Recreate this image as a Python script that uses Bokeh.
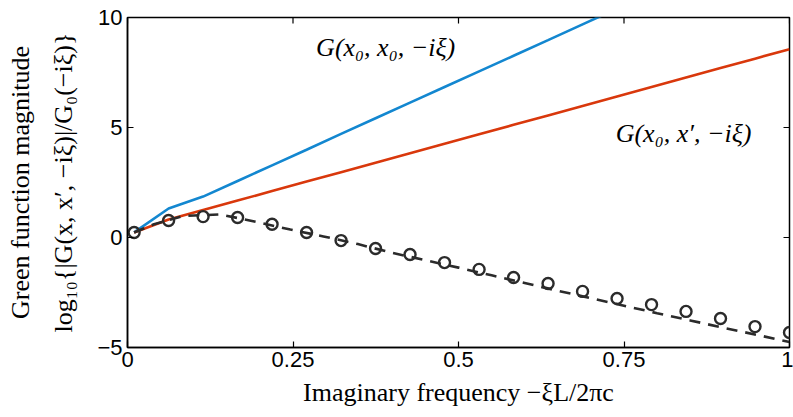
import math
from bokeh.plotting import figure
from bokeh.models import Range1d, LinearAxis, FixedTicker, Label, ColumnDataSource
from bokeh.embed import file_html
from bokeh.resources import INLINE

# ---- data ----
freq = [0.01, 0.0621, 0.1142, 0.1663, 0.2184, 0.2705, 0.3226, 0.3747, 0.4268, 0.4789,
        0.5311, 0.5832, 0.6353, 0.6874, 0.7395, 0.7916, 0.8437, 0.8958, 0.9479, 1.0]
g_same = [0.23, 1.32, 1.86, 2.57, 3.28, 3.99, 4.71, 5.42, 6.13, 6.84,
          7.55, 8.26, 8.97, 9.69, 10.40, 11.11, 11.82, 12.53, 13.25, 13.96]
g_cross = [0.23, 0.82, 1.25, 1.68, 2.11, 2.54, 2.97, 3.40, 3.83, 4.26,
           4.69, 5.12, 5.55, 5.98, 6.41, 6.84, 7.27, 7.70, 8.13, 8.56]
g_circ = [0.23, 0.77, 0.95, 0.91, 0.60, 0.23, -0.14, -0.50, -0.77, -1.14,
          -1.45, -1.82, -2.09, -2.45, -2.77, -3.05, -3.36, -3.68, -4.05, -4.32]
dash_x = [0.01, 0.04, 0.085, 0.14, 0.196, 0.246, 0.296, 0.348, 0.40, 0.45, 0.50,
          0.55, 0.60, 0.65, 0.70, 0.75, 0.80, 0.85, 0.90, 0.95, 1.0]
dash_y = [0.23, 0.60, 0.98, 1.05, 0.70, 0.36, 0.05, -0.30, -0.70, -1.03, -1.37,
          -1.72, -2.07, -2.42, -2.76, -3.10, -3.44, -3.77, -4.10, -4.42, -4.75]
x_ticks = [0, 0.25, 0.5, 0.75, 1]
x_tick_labels = ["0", "0.25", "0.5", "0.75", "1"]
y_ticks = [-5, 0, 5, 10]
x_min, x_max = 0, 1
y_min, y_max = -5, 10

BLUE = "#1387D0"
RED = "#D9380C"
DARK = "#2B2B2B"
SANS = "Liberation Sans"
SERIF = "Liberation Serif"

p = figure(width=793, height=417, output_backend="svg", toolbar_location=None,
           x_range=Range1d(x_min, x_max), y_range=Range1d(y_min, y_max),
           min_border_left=127, min_border_right=4, min_border_top=17, min_border_bottom=70)
p.grid.visible = False
p.outline_line_color = "black"
p.outline_line_width = 1.5
p.background_fill_color = "white"
p.border_fill_color = "white"

src_lines = ColumnDataSource(dict(x=freq, a=g_same, b=g_cross, c=g_circ))
p.line("x", "a", source=src_lines, color=BLUE, line_width=2.6)
p.line("x", "b", source=src_lines, color=RED, line_width=2.6)
p.line(dash_x, dash_y, color=DARK, line_width=2.6, line_dash="11 8")
p.scatter("x", "c", source=src_lines, marker="circle", size=11, fill_color=None,
          line_color=DARK, line_width=2.4)

# inward tick marks on the top and right edges of the box
p.scatter(x_ticks, [y_max] * len(x_ticks), marker="dash", size=12, angle=math.pi / 2,
          line_color="black", line_width=1.2)
p.scatter([x_max] * len(y_ticks), y_ticks, marker="dash", size=12,
          line_color="black", line_width=1.2)


def style_axis(ax):
    ax.axis_line_color = "black"
    ax.axis_line_width = 1.5
    ax.major_tick_line_color = "black"
    ax.major_tick_line_width = 1.2
    ax.major_tick_in = 6
    ax.major_tick_out = 0
    ax.minor_tick_line_color = None
    ax.major_label_text_font = SANS
    ax.major_label_text_font_size = "22px"
    ax.major_label_text_color = "black"
    ax.axis_label_text_font = SERIF
    ax.axis_label_text_font_style = "normal"
    ax.axis_label_text_font_size = "26px"
    ax.axis_label_text_color = "black"


xa = p.xaxis[0]
style_axis(xa)
xa.ticker = FixedTicker(ticks=x_ticks)
xa.major_label_overrides = {t: s for t, s in zip(x_ticks, x_tick_labels)}
xa.major_label_standoff = 4
xa.axis_label = "Imaginary frequency \u2212\u03beL/2\u03c0c"
xa.axis_label_standoff = 8

ya = p.yaxis[0]
style_axis(ya)
ya.ticker = FixedTicker(ticks=y_ticks)
ya.major_label_overrides = {-5: "\u22125"}
ya.major_label_standoff = 5
ya.axis_label = "log\u2081\u2080{|G(x, x\u2032, \u2212i\u03be)|/G\u2080(\u2212i\u03be)}"
ya.axis_label_standoff = 16

ya2 = LinearAxis(ticker=FixedTicker(ticks=[]), axis_line_color=None,
                 major_tick_line_color=None, minor_tick_line_color=None,
                 major_label_standoff=0, major_tick_out=0, major_tick_in=0,
                 axis_label="Green function magnitude",
                 axis_label_text_font=SERIF, axis_label_text_font_style="normal",
                 axis_label_text_font_size="26px", axis_label_text_color="black",
                 axis_label_standoff=12)
p.add_layout(ya2, "left")

p.add_layout(Label(x=0.39, y=8.64, text="G(x\u2080, x\u2080, \u2212i\u03be)",
                   text_font=SERIF, text_font_style="italic", text_font_size="26px",
                   text_align="center", text_baseline="middle", text_color="black"))
p.add_layout(Label(x=0.84, y=4.73, text="G(x\u2080, x\u2032, \u2212i\u03be)",
                   text_font=SERIF, text_font_style="italic", text_font_size="26px",
                   text_align="center", text_baseline="middle", text_color="black"))

open("out.html", "w").write(file_html(p, INLINE))
